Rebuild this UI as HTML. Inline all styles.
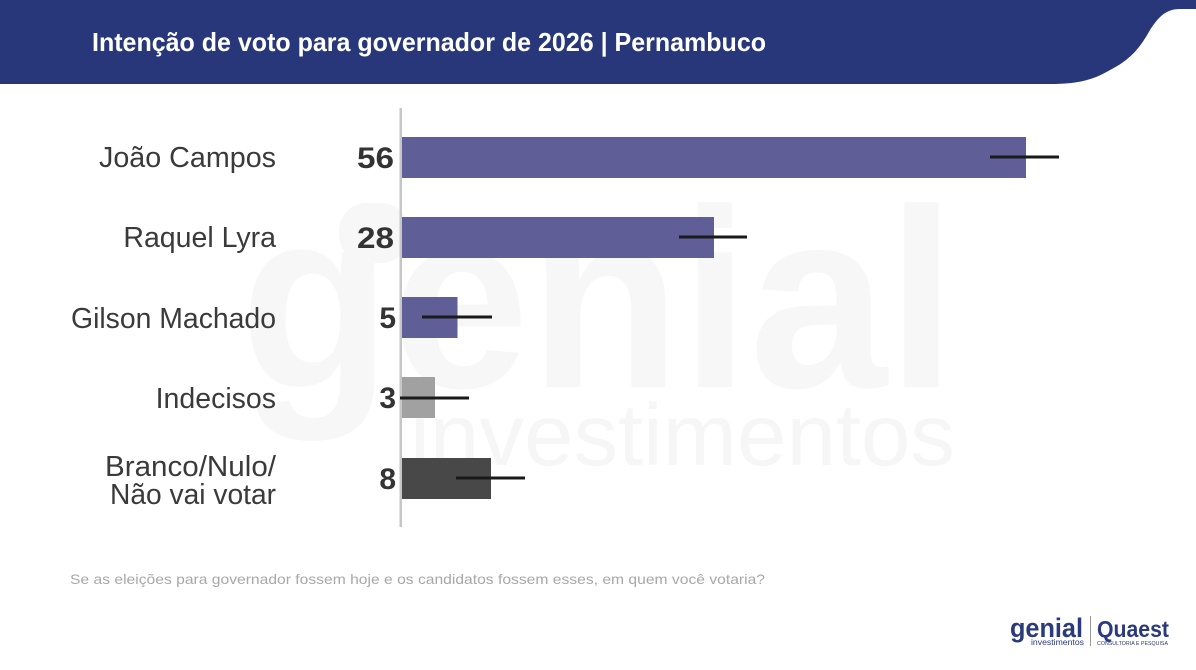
<!DOCTYPE html>
<html>
<head>
<meta charset="utf-8">
<style>
  html,body{margin:0;padding:0;background:#fff;}
  svg{display:block;}
</style>
</head>
<body>
<svg width="1196" height="670" viewBox="0 0 1196 670" xmlns="http://www.w3.org/2000/svg">
  <rect x="0" y="0" width="1196" height="670" fill="#ffffff"/>
  <!-- header -->
  <path d="M0,0 H1196 V9 H1180 C1165,9 1158,18 1150,30 C1140,48 1130,60 1110,70 C1095,79 1080,84 1050,84 H0 Z" fill="#273779"/>
  <text x="92" y="51" font-family="Liberation Sans, sans-serif" font-weight="bold" font-size="26" fill="#ffffff" textLength="674" lengthAdjust="spacingAndGlyphs">Intenção de voto para governador de 2026 | Pernambuco</text>

  <!-- watermark -->
  <rect x="339" y="203" width="70" height="60" rx="28" fill="#f7f7f7"/>
  <text x="240" y="387" font-family="Liberation Sans, sans-serif" font-weight="bold" font-size="255" fill="#f7f7f7" textLength="716" lengthAdjust="spacingAndGlyphs">genial</text>
  <text x="410" y="465" font-family="Liberation Sans, sans-serif" font-size="87" fill="#f6f6f6" textLength="545" lengthAdjust="spacingAndGlyphs">investimentos</text>

  <!-- axis -->
  <rect x="399.5" y="108" width="2.5" height="419" fill="#c6c6c6"/>

  <!-- bars -->
  <rect x="402" y="137" width="624" height="41" fill="#5f5e97"/>
  <rect x="402" y="217" width="312" height="41" fill="#5f5e97"/>
  <rect x="402" y="297" width="55.5" height="41" fill="#5f5e97"/>
  <rect x="402" y="377" width="33" height="41" fill="#a1a1a1"/>
  <rect x="402" y="458" width="89" height="41" fill="#484848"/>

  <!-- error bars -->
  <g stroke="#1a1a1a" stroke-width="3">
    <line x1="990" y1="157" x2="1059" y2="157"/>
    <line x1="679" y1="237" x2="747" y2="237"/>
    <line x1="422" y1="317" x2="492" y2="317"/>
    <line x1="400" y1="398" x2="469" y2="398"/>
    <line x1="456" y1="478" x2="525" y2="478"/>
  </g>

  <!-- category labels -->
  <g font-family="Liberation Sans, sans-serif" font-size="28.5" fill="#3a3a3a" text-anchor="end">
    <text x="276" y="167" textLength="177" lengthAdjust="spacingAndGlyphs">João Campos</text>
    <text x="276" y="247">Raquel Lyra</text>
    <text x="276" y="328" textLength="205" lengthAdjust="spacingAndGlyphs">Gilson Machado</text>
    <text x="276" y="408">Indecisos</text>
    <text x="276" y="476" textLength="171" lengthAdjust="spacingAndGlyphs">Branco/Nulo/</text>
    <text x="276" y="504" textLength="166" lengthAdjust="spacingAndGlyphs">Não vai votar</text>
  </g>

  <!-- value labels -->
  <g font-family="Liberation Sans, sans-serif" font-weight="bold" font-size="30" fill="#333333" text-anchor="end">
    <text x="394" y="168" textLength="37" lengthAdjust="spacingAndGlyphs">56</text>
    <text x="394" y="248" textLength="37" lengthAdjust="spacingAndGlyphs">28</text>
    <text x="396" y="328">5</text>
    <text x="396" y="408">3</text>
    <text x="396" y="489">8</text>
  </g>

  <!-- footnote -->
  <text x="70" y="584" font-family="Liberation Sans, sans-serif" font-size="14" fill="#a8a8a8" textLength="695" lengthAdjust="spacingAndGlyphs">Se as eleições para governador fossem hoje e os candidatos fossem esses, em quem você votaria?</text>

  <!-- logos -->
  <text x="1010" y="637" font-family="Liberation Sans, sans-serif" font-weight="bold" font-size="27" fill="#2a3a7c" textLength="73" lengthAdjust="spacingAndGlyphs">genial</text>
  <text x="1031" y="645" font-family="Liberation Sans, sans-serif" font-size="8" fill="#2a3a7c" textLength="53" lengthAdjust="spacingAndGlyphs">investimentos</text>
  <line x1="1090.5" y1="616" x2="1090.5" y2="646" stroke="#9a9a9a" stroke-width="1"/>
  <text x="1097" y="637" font-family="Liberation Sans, sans-serif" font-weight="bold" font-size="23" fill="#2a3a7c" textLength="72" lengthAdjust="spacingAndGlyphs">Quaest</text>
  <text x="1097" y="645" font-family="Liberation Sans, sans-serif" font-size="5.5" fill="#2a3a7c" textLength="71" lengthAdjust="spacingAndGlyphs">CONSULTORIA E PESQUISA</text>
</svg>
</body>
</html>
